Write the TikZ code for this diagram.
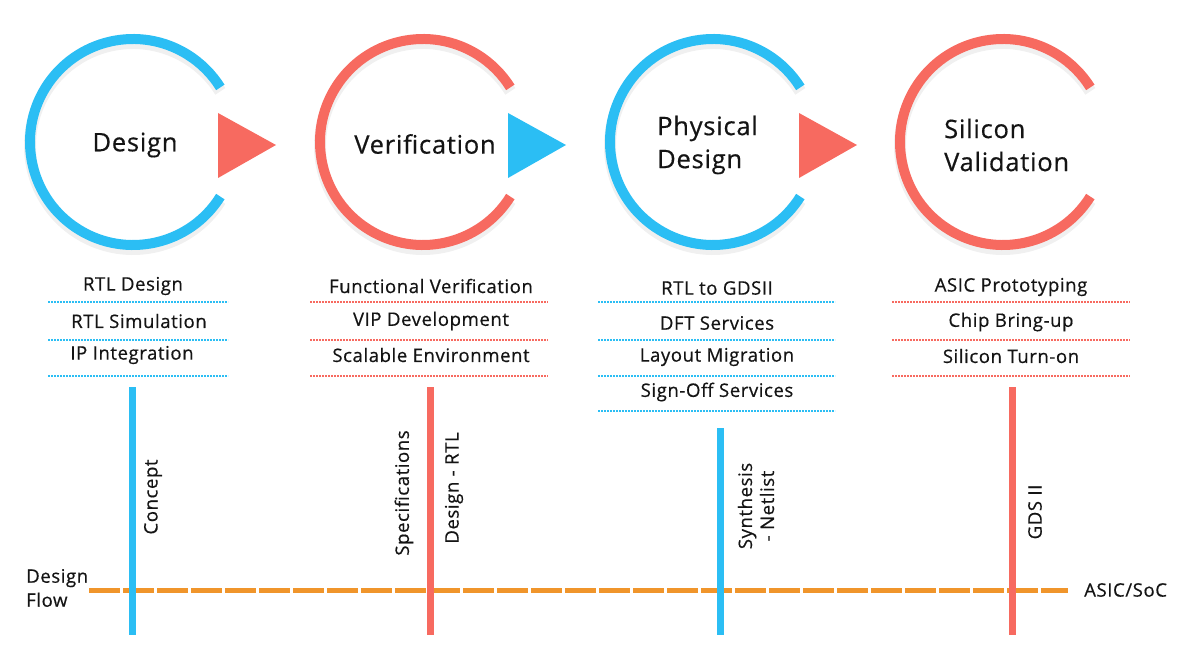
\documentclass[tikz,border=0pt]{standalone}
\usepackage{fontspec}
\setmainfont{Open Sans}[LetterSpace=3, FakeBold=0.5]
\usetikzlibrary{calc}
\definecolor{cblue}{HTML}{2BBEF4}
\definecolor{cred}{HTML}{F76A60}
\definecolor{corange}{HTML}{F0952B}
\tikzset{
  ring/.style={line width=10pt},
  shade/.style={line width=12pt, black, opacity=0.06},
  head/.style={font=\fontsize{25.5}{33}\selectfont, text=black!92, align=left, inner sep=0pt},
  item/.style={font=\fontsize{18.6}{22}\selectfont, text=black!92, inner sep=0pt},
  sep/.style={line width=1.3pt, dash pattern=on 2pt off 1pt},
  bar/.style={line width=7pt},
  vlab/.style={font=\fontsize{18.6}{22}\selectfont, text=black!92, rotate=90, inner sep=0pt, align=center},
  flow/.style={corange, line width=5pt, dash pattern=on 30.5pt off 3.5pt},
  side/.style={font=\fontsize{18.6}{24}\selectfont, text=black!92, inner sep=0pt, align=left}
}
\begin{document}
\begin{tikzpicture}[x=1pt,y=-1pt]
\useasboundingbox (0,0) rectangle (1200,663);
% circle centres
\coordinate (c1) at (133,142);
\coordinate (c2) at (423,142);
\coordinate (c3) at (713,142);
\coordinate (c4) at (1003,142);
% soft shadows
\foreach \c in {c1,c2,c3,c4}{
  \draw[shade] ($(\c)+(0,4)$) ++(32:103) arc[start angle=32, end angle=328, radius=103];
}
% rings
\draw[ring, cblue] (c1) ++(32:103) arc[start angle=32, end angle=328, radius=103];
\draw[ring, cred]  (c2) ++(32:103) arc[start angle=32, end angle=328, radius=103];
\draw[ring, cblue] (c3) ++(32:103) arc[start angle=32, end angle=328, radius=103];
\draw[ring, cred]  (c4) ++(32:103) arc[start angle=32, end angle=328, radius=103];
% triangles
\fill[cred]  (218,113) -- (276,145) -- (218,178) -- cycle;
\fill[cblue] (508,113) -- (566,145) -- (508,178) -- cycle;
\fill[cred]  (799,113) -- (857,145) -- (799,178) -- cycle;
% headings
\node[head] (h1) at (135,145) {Design};
\node[head] (h2) at (425,144) {Verification};
\node[head, anchor=west] (h3) at (657,145) {Physical\\Design};
\node[head, anchor=west] (h4) at (944,145) {Silicon\\Validation};
% lists - Design
\node[item] (d1) at (133,286) {RTL Design};
\node[item] (d2) at (139,321) {RTL Simulation};
\node[item] (d3) at (132,355) {IP Integration};
\draw[sep, cblue] (48,302) -- (228,302);
\draw[sep, cblue] (48,340) -- (228,340);
\draw[sep, cblue] (48,376) -- (228,376);
% lists - Verification
\node[item] (v1) at (431,286) {Functional Verification};
\node[item] (v2) at (431,321) {VIP Development};
\node[item] (v3) at (431,355) {Scalable Environment};
\draw[sep, cred] (310,302) -- (548,302);
\draw[sep, cred] (310,340) -- (548,340);
\draw[sep, cred] (310,376) -- (548,376);
% lists - Physical
\node[item] (p1) at (717,288) {RTL to GDSII};
\node[item] (p2) at (717,323) {DFT Services};
\node[item] (p3) at (717,357) {Layout Migration};
\node[item] (p4) at (717,392) {Sign-Off Services};
\draw[sep, cblue] (598,302) -- (835,302);
\draw[sep, cblue] (598,340) -- (835,340);
\draw[sep, cblue] (598,376) -- (835,376);
\draw[sep, cblue] (598,411) -- (835,411);
% lists - Silicon
\node[item] (s1) at (1011,287) {ASIC Prototyping};
\node[item] (s2) at (1011,322) {Chip Bring-up};
\node[item] (s3) at (1011,356) {Silicon Turn-on};
\draw[sep, cred] (892,302) -- (1130,302);
\draw[sep, cred] (892,340) -- (1130,340);
\draw[sep, cred] (892,376) -- (1130,376);
% design flow line
\coordinate (fa) at (89,590);
\coordinate (fb) at (1068,590);
\draw[flow] (fa) -- (fb);
\node[side, anchor=west] (df) at (26,588) {Design\\Flow};
\node[side, anchor=west] (asic) at (1084,590) {ASIC/SoC};
% vertical bars
\draw[bar, cblue] (132,387) -- (132,635);
\draw[bar, cred]  (430,387) -- (430,635);
\draw[bar, cblue] (720,428) -- (720,635);
\draw[bar, cred]  (1012,387) -- (1012,635);
% rotated labels
\node[vlab] (l1) at (153,497) {Concept};
\node[vlab] (l2) at (404,493) {Specifications};
\node[vlab] (l3) at (454,488) {Design - RTL};
\node[vlab] (l4) at (756,506) {Synthesis\\- Netlist};
\node[vlab] (l5) at (1035,512) {GDS II};
\end{tikzpicture}
\end{document}
